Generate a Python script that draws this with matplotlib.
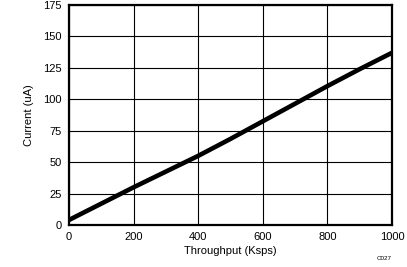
import matplotlib
matplotlib.use("Agg")
import matplotlib.pyplot as plt

plt.rcParams['font.family'] = ['Liberation Sans', 'DejaVu Sans']

throughput = [0, 100, 200, 300, 400, 500, 600, 700, 800, 900, 1000]
current = [4, 17, 30, 42.5, 55, 68.5, 82.5, 96.5, 110.5, 124, 137]
xticks = [0, 200, 400, 600, 800, 1000]
yticks = [0, 25, 50, 75, 100, 125, 150, 175]

fig = plt.figure(figsize=(4.07, 2.67), dpi=100)
ax = fig.add_axes([69/407, 42/267, 323/407, 220/267])
ax.plot(throughput, current, color='black', lw=3.3, solid_capstyle='butt')
ax.set_xlim(0, 1000)
ax.set_ylim(0, 175)
ax.set_xticks(xticks)
ax.set_yticks(yticks)
ax.grid(True, color='black', lw=0.8)
ax.set_axisbelow(True)
for s in ax.spines.values():
    s.set_linewidth(1.6)
ax.tick_params(length=0, labelsize=8, pad=5)
ax.set_xlabel('Throughput (Ksps)', fontsize=8, labelpad=3)
ax.set_ylabel('Current (uA)', fontsize=8, labelpad=7)
fig.text(384/407, 6/267, 'C027', fontsize=4.5, ha='center', va='bottom')
fig.savefig('out.png', dpi=100)
